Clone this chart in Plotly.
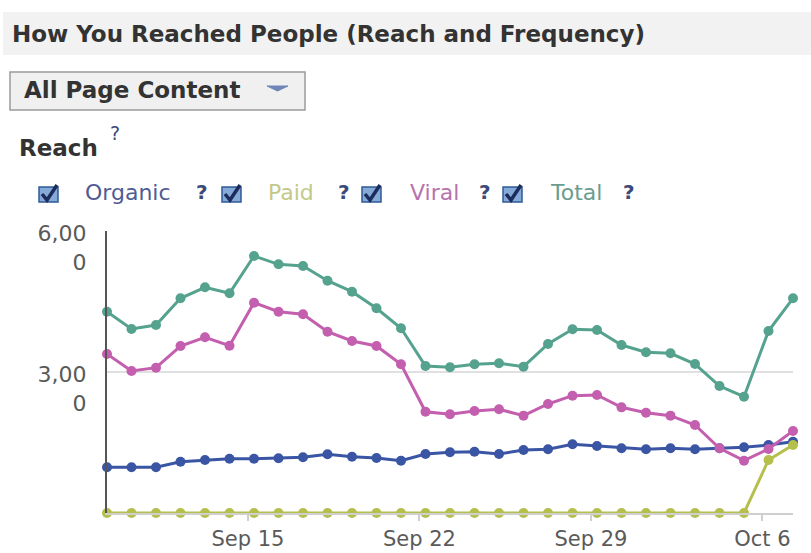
import plotly.graph_objects as go
import pandas as pd

# ---------------- data ----------------
dates = pd.date_range("2013-09-09", "2013-10-07", freq="D")
organic = [972, 972, 972, 1092, 1128, 1155, 1155, 1164, 1185, 1249, 1198, 1170, 1113, 1255,
           1291, 1305, 1255, 1340, 1355, 1462, 1426, 1376, 1355, 1376, 1355, 1376, 1398, 1447, 1517]
paid = [0, 0, 0, 0, 0, 0, 0, 0, 0, 0, 0, 0, 0, 0,
        0, 0, 0, 0, 0, 0, 0, 0, 0, 0, 0, 0, 0, 1128, 1447]
viral = [3383, 3021, 3092, 3553, 3738, 3560, 4475, 4283, 4228, 3858, 3660, 3553, 3164, 2155,
         2100, 2170, 2206, 2071, 2319, 2496, 2511, 2248, 2134, 2071, 1872, 1376, 1113, 1362, 1745]
total = [4283, 3915, 4000, 4568, 4802, 4674, 5468, 5291, 5255, 4943, 4709, 4355, 3930, 3128,
         3100, 3164, 3185, 3113, 3596, 3909, 3894, 3574, 3419, 3398, 3170, 2702, 2475, 3872, 4568]
series_names = ["Organic", "Paid", "Viral", "Total"]
series_colors = ["#3a55a4", "#b5bf4c", "#c35fae", "#55a28e"]
legend_text_colors = ["#4f5c94", "#c3c98a", "#b673ad", "#6a9c90"]
x_tick_dates = ["2013-09-14 18:00", "2013-09-21 18:00", "2013-09-28 18:00", "2013-10-05 18:00"]
x_tick_labels = ["Sep 15", "Sep 22", "Sep 29", "Oct 6"]
y_tick_values = [3000, 6000]
y_tick_labels = ["3,00<br>0", "6,00<br>0"]
grid_values = [3000]

# ---------------- layout helpers (pixel -> paper) ----------------
W, H = 811, 553
PL, PR, PT, PB = 107, 793, 231, 513


def px(x):
    return (x - PL) / (PR - PL)


def py(y):
    return (PB - y) / (PB - PT)


fig = go.Figure()
for name, vals, col in zip(series_names, [organic, paid, viral, total], series_colors):
    fig.add_trace(go.Scatter(
        x=dates, y=vals, name=name, mode="lines+markers",
        line=dict(color=col, width=3), marker=dict(color=col, size=10),
        cliponaxis=False, showlegend=False))

shapes = []
annotations = []

# header bar
shapes.append(dict(type="rect", xref="paper", yref="paper", x0=px(3), x1=px(811), y0=py(12), y1=py(55),
                   fillcolor="#f2f2f2", line=dict(width=0), layer="below"))
annotations.append(dict(xref="paper", yref="paper", x=px(10), y=py(33.5), xanchor="left", yanchor="middle",
                        text="<b>How You Reached People (Reach and Frequency)</b>", showarrow=False,
                        font=dict(family="DejaVu Sans", size=23, color="#333333")))
# dropdown button
shapes.append(dict(type="rect", xref="paper", yref="paper", x0=px(10), x1=px(305), y0=py(72), y1=py(110),
                   fillcolor="#f0f0f0", line=dict(color="#9a9a9a", width=1.5), layer="below"))
annotations.append(dict(xref="paper", yref="paper", x=px(22), y=py(90), xanchor="left", yanchor="middle",
                        text="<b>All Page Content</b>", showarrow=False,
                        font=dict(family="DejaVu Sans", size=23, color="#333333")))
ax0, ax1, ay0, ay1 = px(267), px(288), py(86), py(91)
shapes.append(dict(type="path", xref="paper", yref="paper",
                   path=f"M{ax0},{ay0} L{ax1},{ay0} L{(ax0+ax1)/2},{ay1} Z",
                   fillcolor="#6f86b8", line=dict(color="#6f86b8", width=1)))
# Reach title
annotations.append(dict(xref="paper", yref="paper", x=px(17), y=py(148), xanchor="left", yanchor="middle",
                        text="<b>Reach</b>", showarrow=False,
                        font=dict(family="DejaVu Sans", size=23, color="#333333")))
annotations.append(dict(xref="paper", yref="paper", x=px(108), y=py(133), xanchor="left", yanchor="middle",
                        text="?", showarrow=False,
                        font=dict(family="DejaVu Sans", size=19, color="#3b4a78")))

# legend row (checkboxes + labels)
box_x = [39, 222, 362, 503]
label_x = [83, 266, 408, 548]
q_x = [194, 336, 477, 621]
ly = 194
for bx, lx, qx, name, tc in zip(box_x, label_x, q_x, series_names, legend_text_colors):
    shapes.append(dict(type="rect", xref="paper", yref="paper", x0=px(bx), x1=px(bx + 19), y0=py(ly - 7),
                       y1=py(ly + 8), fillcolor="#86aad8", line=dict(color="#2f5a96", width=1.5)))
    c0 = (px(bx + 3), py(ly))
    c1 = (px(bx + 8), py(ly + 6))
    c2 = (px(bx + 18), py(ly - 9))
    shapes.append(dict(type="path", xref="paper", yref="paper",
                       path=f"M{c0[0]},{c0[1]} L{c1[0]},{c1[1]} L{c2[0]},{c2[1]}",
                       line=dict(color="#1c2c5c", width=3.5)))
    annotations.append(dict(xref="paper", yref="paper", x=px(lx), y=py(ly - 1), xanchor="left", yanchor="middle",
                            text=name, showarrow=False,
                            font=dict(family="DejaVu Sans", size=22, color=tc)))
    annotations.append(dict(xref="paper", yref="paper", x=px(qx), y=py(ly - 2), xanchor="left", yanchor="middle",
                            text="<b>?</b>", showarrow=False,
                            font=dict(family="DejaVu Sans", size=20, color="#3b4a78")))

# horizontal grid line(s)
for gv in grid_values:
    shapes.append(dict(type="line", xref="paper", yref="y", x0=0, x1=1, y0=gv, y1=gv,
                       line=dict(color="#d6d6d6", width=1.5), layer="below"))

fig.update_layout(
    width=W, height=H,
    margin=dict(l=PL, r=W - PR, t=PT, b=H - PB),
    paper_bgcolor="white", plot_bgcolor="white",
    shapes=shapes, annotations=annotations,
    xaxis=dict(range=[dates[0], dates[-1]], tickvals=x_tick_dates, ticktext=x_tick_labels,
               showgrid=False, zeroline=False, showline=True, linecolor="#cfcfcf", linewidth=2,
               ticks="outside", ticklen=6, tickcolor="#cfcfcf", tickwidth=1.5, automargin=False,
               ticklabelstandoff=0,
               tickfont=dict(family="DejaVu Sans", size=21, color="#5a5a5a")),
    yaxis=dict(range=[0, 6000], tickvals=y_tick_values, ticktext=y_tick_labels,
               showgrid=False, zeroline=False, showline=True, linecolor="#555555", linewidth=2,
               ticks="", ticklabelstandoff=14, ticklabelshift=17, automargin=False,
               tickfont=dict(family="DejaVu Sans", size=22, color="#5a5a5a")),
)

fig.write_html("out.html")
